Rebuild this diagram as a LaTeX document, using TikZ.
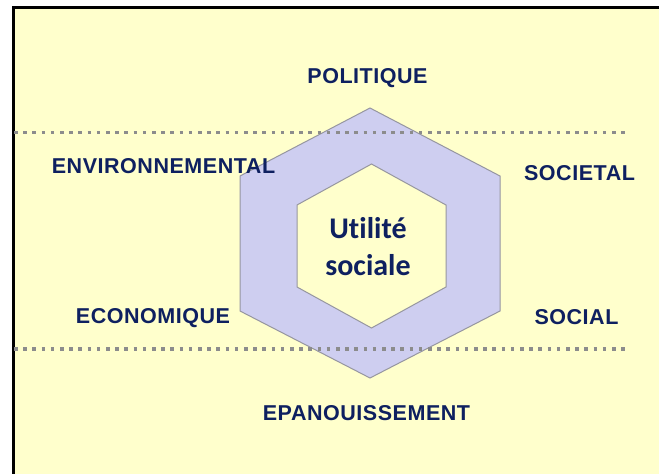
\documentclass[tikz,border=0pt]{standalone}
\usepackage{fontspec}
\setmainfont{Liberation Sans}
\newfontfamily\capsfont[LetterSpace=2.5]{Liberation Sans}
\newfontfamily\centrefont[Ligatures={NoCommon,NoRare,NoContextual}]{Carlito}
\definecolor{bgyellow}{RGB}{255,255,204}
\definecolor{hexfill}{RGB}{206,206,240}
\definecolor{hexline}{RGB}{150,150,160}
\definecolor{dotgray}{RGB}{140,140,140}
\definecolor{navy}{RGB}{14,32,96}
\begin{document}
\begin{tikzpicture}[x=1pt,y=-1pt,
  dim/.style={font=\capsfont\bfseries\fontsize{21.5}{24}\selectfont, text=navy, anchor=base, inner sep=0pt},
  hexa/.style={draw=hexline, line width=1pt, line join=miter},
  dotline/.style={draw=dotgray, line width=3.4pt, dash pattern=on 3.6pt off 5.6pt}]
\useasboundingbox (0,0) rectangle (659,474);
\fill[white] (0,0) rectangle (659,474);
\draw[fill=bgyellow, line width=3pt] (13.5,7.5) rectangle (700,520);
% outer hexagon
\draw[hexa, fill=hexfill] (370,108) -- (500,176) -- (500,311) -- (370,378) -- (240,311) -- (240,176) -- cycle;
% inner hexagon
\draw[hexa, fill=bgyellow] (371.5,164) -- (446,205) -- (446,287) -- (371.5,328) -- (297,287) -- (297,205) -- cycle;
% dotted lines
\coordinate (l1a) at (14,132.5);
\coordinate (l1b) at (630,132.5);
\coordinate (l2a) at (14,349);
\coordinate (l2b) at (630,349);
\draw[dotline] (l1a) -- (l1b);
\draw[dotline] (l2a) -- (l2b);
% labels
\node[dim] (pol) at (367.5,83) {POLITIQUE};
\node[dim] (env) at (163.5,173) {ENVIRONNEMENTAL};
\node[dim] (soc) at (579.5,180) {SOCIETAL};
\node[dim] (eco) at (153,323) {ECONOMIQUE};
\node[dim] (scl) at (576.5,324) {SOCIAL};
\node[dim] (epa) at (366.5,420) {EPANOUISSEMENT};
\node[font=\centrefont\bfseries\fontsize{30}{37}\selectfont, text=navy, align=center, inner sep=0pt, anchor=base] (us) at (368,275) {Utilité\\sociale};
\end{tikzpicture}
\end{document}
